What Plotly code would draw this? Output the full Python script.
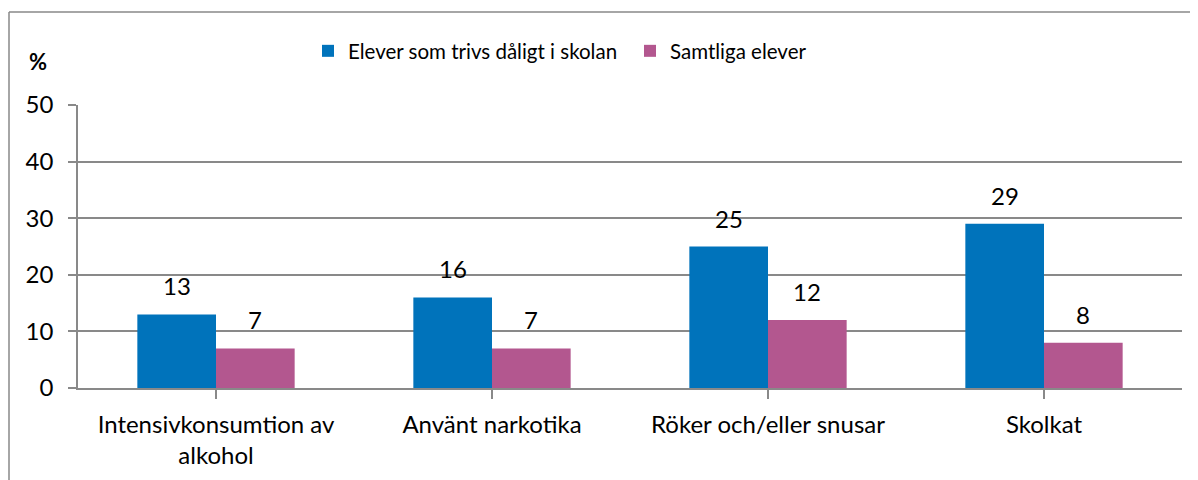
import plotly.graph_objects as go

categories = ["Intensivkonsumtion av<br>alkohol", "Använt narkotika", "Röker och/eller snusar", "Skolkat"]
series_names = ["Elever som trivs dåligt i skolan", "Samtliga elever"]
dalig = [13, 16, 25, 29]
samtliga = [7, 7, 12, 8]
y_ticks = [0, 10, 20, 30, 40, 50]

colors = ["#0073BB", "#B3578F"]
FONT = "Lato"
FS = 24
FS_LEG = 20.5
GRID = "#898989"
BARGAP = 0.43

# page has an 8px body margin; figure sized so it fills the 1198x480 window
OFF = 8
W, H = 1198 - OFF, 480 - OFF
L, R, T, B = 70, 16, 97, 92
pw, ph = W - L - R, H - T - B


def px_x(px):
    return (px - OFF - L) / pw


def px_y(py):
    return (H - B - (py - OFF)) / ph


fig = go.Figure()
for name, vals, col in zip(series_names, [dalig, samtliga], colors):
    fig.add_trace(go.Bar(x=list(range(len(categories))), y=vals, name=name,
                         marker=dict(color=col, line=dict(width=0))))

w = (1 - BARGAP) / 2
annotations = []
for k, vals in enumerate([dalig, samtliga]):
    off = -w / 2 if k == 0 else w / 2
    for i, v in enumerate(vals):
        annotations.append(dict(x=i + off, y=v, xref="x", yref="y", text=str(v),
                                showarrow=False, yanchor="bottom", yshift=12,
                                font=dict(family=FONT, size=FS, color="#000000")))
annotations.append(dict(x=px_x(38), y=px_y(61), xref="paper", yref="paper",
                        xanchor="center", yanchor="middle", text="<b>%</b>",
                        showarrow=False, font=dict(family=FONT, size=22, color="#000000")))

fig.update_layout(
    width=W, height=H,
    margin=dict(l=L, r=R, t=T, b=B),
    paper_bgcolor="white", plot_bgcolor="white",
    barmode="group", bargap=BARGAP, bargroupgap=0,
    font=dict(family=FONT, size=FS, color="#000000"),
    showlegend=True,
    legend=dict(orientation="h", x=px_x(308), xanchor="left",
                y=px_y(51), yanchor="middle", entrywidth=277,
                font=dict(family=FONT, size=FS_LEG), itemclick=False,
                bgcolor="rgba(0,0,0,0)", traceorder="normal"),
    annotations=annotations,
    shapes=[
        dict(type="line", xref="paper", yref="paper",
             x0=px_x(9), x1=px_x(1300), y0=px_y(12), y1=px_y(12),
             line=dict(color=GRID, width=1.5)),
        dict(type="line", xref="paper", yref="paper",
             x0=px_x(9), x1=px_x(9), y0=px_y(12), y1=px_y(600),
             line=dict(color=GRID, width=1.5)),
    ],
)
fig.update_xaxes(
    tickmode="array", tickvals=list(range(len(categories))), ticktext=categories,
    range=[-0.5, len(categories) - 0.5],
    tickson="boundaries", ticks="outside", ticklen=9, tickcolor=GRID, tickwidth=1.5,
    showline=True, linecolor=GRID, linewidth=1.5, showgrid=False, zeroline=False,
    ticklabelstandoff=5,
    tickfont=dict(family=FONT, size=FS, color="#000000"),
)
fig.update_yaxes(
    range=[0, 50], tickmode="array", tickvals=y_ticks,
    ticks="outside", ticklen=8, tickcolor=GRID, tickwidth=1.5,
    showline=True, linecolor=GRID, linewidth=1.5,
    showgrid=True, gridcolor=GRID, gridwidth=1.5, zeroline=False,
    ticklabelstandoff=10,
    tickfont=dict(family=FONT, size=FS, color="#000000"),
)
fig.write_html("out.html")
